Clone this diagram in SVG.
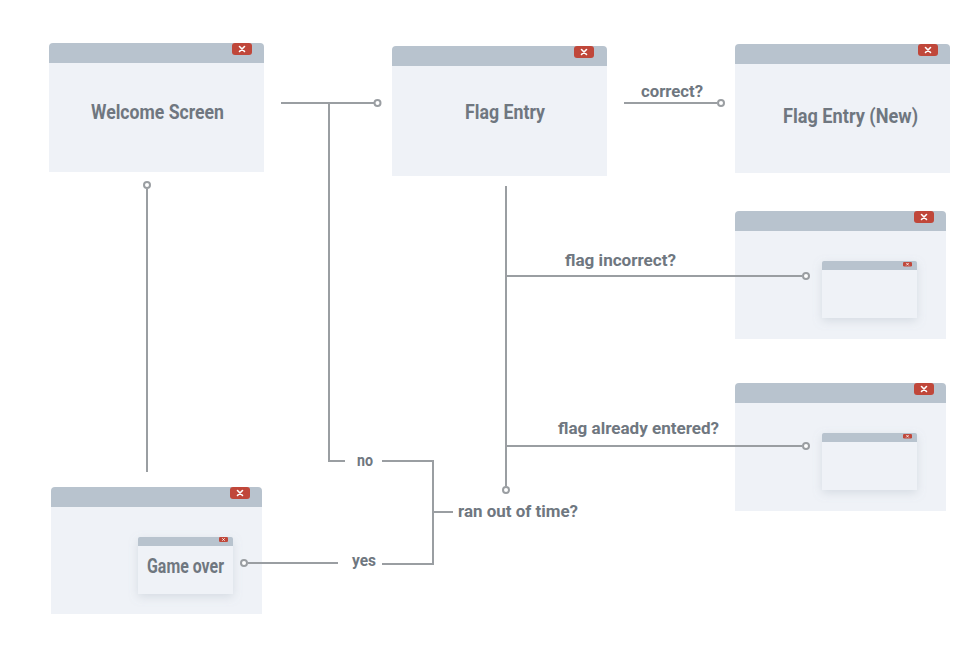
<svg xmlns="http://www.w3.org/2000/svg" width="977" height="650" viewBox="0 0 977 650">
<defs>
<style>
.bar{fill:#b8c3ce}
.body{fill:#eff2f7}
.cls{fill:#c0473a}
.x{stroke:#ffffff;stroke-width:1.6;stroke-linecap:round}
.xs{stroke:#ffffff;stroke-width:0.8;stroke-linecap:round}
.t{font-family:Roboto,"Liberation Sans",sans-serif;font-weight:bold;fill:#6f7780;text-anchor:middle}
.big{font-size:20px}
.lbl{font-size:17px}
.ln{stroke:#9a9ea2;stroke-width:2;fill:none}
.dot{stroke:#9a9ea2;stroke-width:2;fill:#ffffff}
</style>
<filter id="sh" x="-30%" y="-30%" width="160%" height="170%">
<feDropShadow dx="0" dy="3" stdDeviation="5" flood-color="#8a96a6" flood-opacity="0.25"/>
</filter>
</defs>

<g id="welcome">
<path class="bar" d="M49,63 V47 a4,4 0 0 1 4,-4 H260 a4,4 0 0 1 4,4 V63 Z"/>
<rect class="body" x="49" y="63" width="215" height="109"/>
<rect class="cls" x="232" y="43" width="20" height="12" rx="3"/>
<path class="x" d="M239.5,46.5 l5,5 M244.5,46.5 l-5,5"/>
<text class="t big" x="157.5" y="119" textLength="133" lengthAdjust="spacingAndGlyphs">Welcome Screen</text>
</g>

<g id="flag-entry">
<path class="bar" d="M392,66 V50 a4,4 0 0 1 4,-4 H603 a4,4 0 0 1 4,4 V66 Z"/>
<rect class="body" x="392" y="66" width="215" height="110"/>
<rect class="cls" x="574" y="46" width="20" height="12" rx="3"/>
<path class="x" d="M581.5,49.5 l5,5 M586.5,49.5 l-5,5"/>
<text class="t big" x="505" y="119" textLength="80" lengthAdjust="spacingAndGlyphs">Flag Entry</text>
</g>

<g id="flag-entry-new">
<path class="bar" d="M735,64 V48 a4,4 0 0 1 4,-4 H946 a4,4 0 0 1 4,4 V64 Z"/>
<rect class="body" x="735" y="64" width="215" height="109"/>
<rect class="cls" x="918" y="44" width="20" height="12" rx="3"/>
<path class="x" d="M925.5,47.5 l5,5 M930.5,47.5 l-5,5"/>
<text class="t big" x="850.5" y="123" textLength="135" lengthAdjust="spacingAndGlyphs">Flag Entry (New)</text>
</g>

<g id="incorrect-window">
<path class="bar" d="M735,231 V215 a4,4 0 0 1 4,-4 H942 a4,4 0 0 1 4,4 V231 Z"/>
<rect class="body" x="735" y="231" width="211" height="108"/>
<rect class="cls" x="914" y="211" width="20" height="12" rx="3"/>
<path class="x" d="M921.5,214.5 l5,5 M926.5,214.5 l-5,5"/>
<g filter="url(#sh)">
<path class="bar" d="M822,270 V263 a2,2 0 0 1 2,-2 H915 a2,2 0 0 1 2,2 V270 Z"/>
<rect class="body" x="822" y="270" width="95" height="48"/>
</g>
<rect class="cls" x="903" y="262" width="9" height="4.5" rx="1.2"/>
<path class="xs" d="M906.5,263.2 l2,2 M908.5,263.2 l-2,2"/>
</g>

<g id="already-entered-window">
<path class="bar" d="M735,403 V387 a4,4 0 0 1 4,-4 H942 a4,4 0 0 1 4,4 V403 Z"/>
<rect class="body" x="735" y="403" width="211" height="108"/>
<rect class="cls" x="914" y="383" width="20" height="12" rx="3"/>
<path class="x" d="M921.5,386.5 l5,5 M926.5,386.5 l-5,5"/>
<g filter="url(#sh)">
<path class="bar" d="M822,442 V435 a2,2 0 0 1 2,-2 H915 a2,2 0 0 1 2,2 V442 Z"/>
<rect class="body" x="822" y="442" width="95" height="48"/>
</g>
<rect class="cls" x="903" y="434" width="9" height="4.5" rx="1.2"/>
<path class="xs" d="M906.5,435.2 l2,2 M908.5,435.2 l-2,2"/>
</g>

<g id="game-over-window">
<path class="bar" d="M51,507 V491 a4,4 0 0 1 4,-4 H258 a4,4 0 0 1 4,4 V507 Z"/>
<rect class="body" x="51" y="507" width="211" height="107"/>
<rect class="cls" x="230" y="487" width="20" height="12" rx="3"/>
<path class="x" d="M237.5,490.5 l5,5 M242.5,490.5 l-5,5"/>
<g filter="url(#sh)">
<path class="bar" d="M138,546 V539 a2,2 0 0 1 2,-2 H231 a2,2 0 0 1 2,2 V546 Z"/>
<rect class="body" x="138" y="546" width="95" height="48"/>
</g>
<rect class="cls" x="219" y="537" width="9" height="5" rx="1.2"/>
<path class="xs" d="M222.5,538.5 l2,2 M224.5,538.5 l-2,2"/>
<text class="t big" x="185.5" y="573" textLength="77" lengthAdjust="spacingAndGlyphs">Game over</text>
</g>

<g id="connectors">
<path class="ln" d="M281,103 H374"/>
<circle class="dot" cx="377.5" cy="103" r="3"/>
<path class="ln" d="M329,103 V461 H345"/>
<path class="ln" d="M147,189 V472"/>
<circle class="dot" cx="147" cy="185" r="3"/>
<path class="ln" d="M382,461 H433 V564 H382"/>
<path class="ln" d="M433,512 H453"/>
<path class="ln" d="M338,563 H248"/>
<circle class="dot" cx="244" cy="563" r="3"/>
<path class="ln" d="M624,103 H717"/>
<circle class="dot" cx="721" cy="103" r="3"/>
<path class="ln" d="M506,186 V486"/>
<circle class="dot" cx="506" cy="490" r="3"/>
<path class="ln" d="M507,276 H802"/>
<circle class="dot" cx="806" cy="276" r="3"/>
<path class="ln" d="M507,446 H802"/>
<circle class="dot" cx="806" cy="446" r="3"/>
</g>

<g id="labels">
<text class="t lbl" x="672" y="97" textLength="62" lengthAdjust="spacingAndGlyphs">correct?</text>
<text class="t lbl" x="620.5" y="266" textLength="111" lengthAdjust="spacingAndGlyphs">flag incorrect?</text>
<text class="t lbl" x="638.5" y="434" textLength="161" lengthAdjust="spacingAndGlyphs">flag already entered?</text>
<text class="t lbl" x="365" y="466" textLength="16" lengthAdjust="spacingAndGlyphs">no</text>
<text class="t lbl" x="364" y="566" textLength="24" lengthAdjust="spacingAndGlyphs">yes</text>
<text class="t lbl" x="518" y="517" textLength="120" lengthAdjust="spacingAndGlyphs">ran out of time?</text>
</g>
</svg>
